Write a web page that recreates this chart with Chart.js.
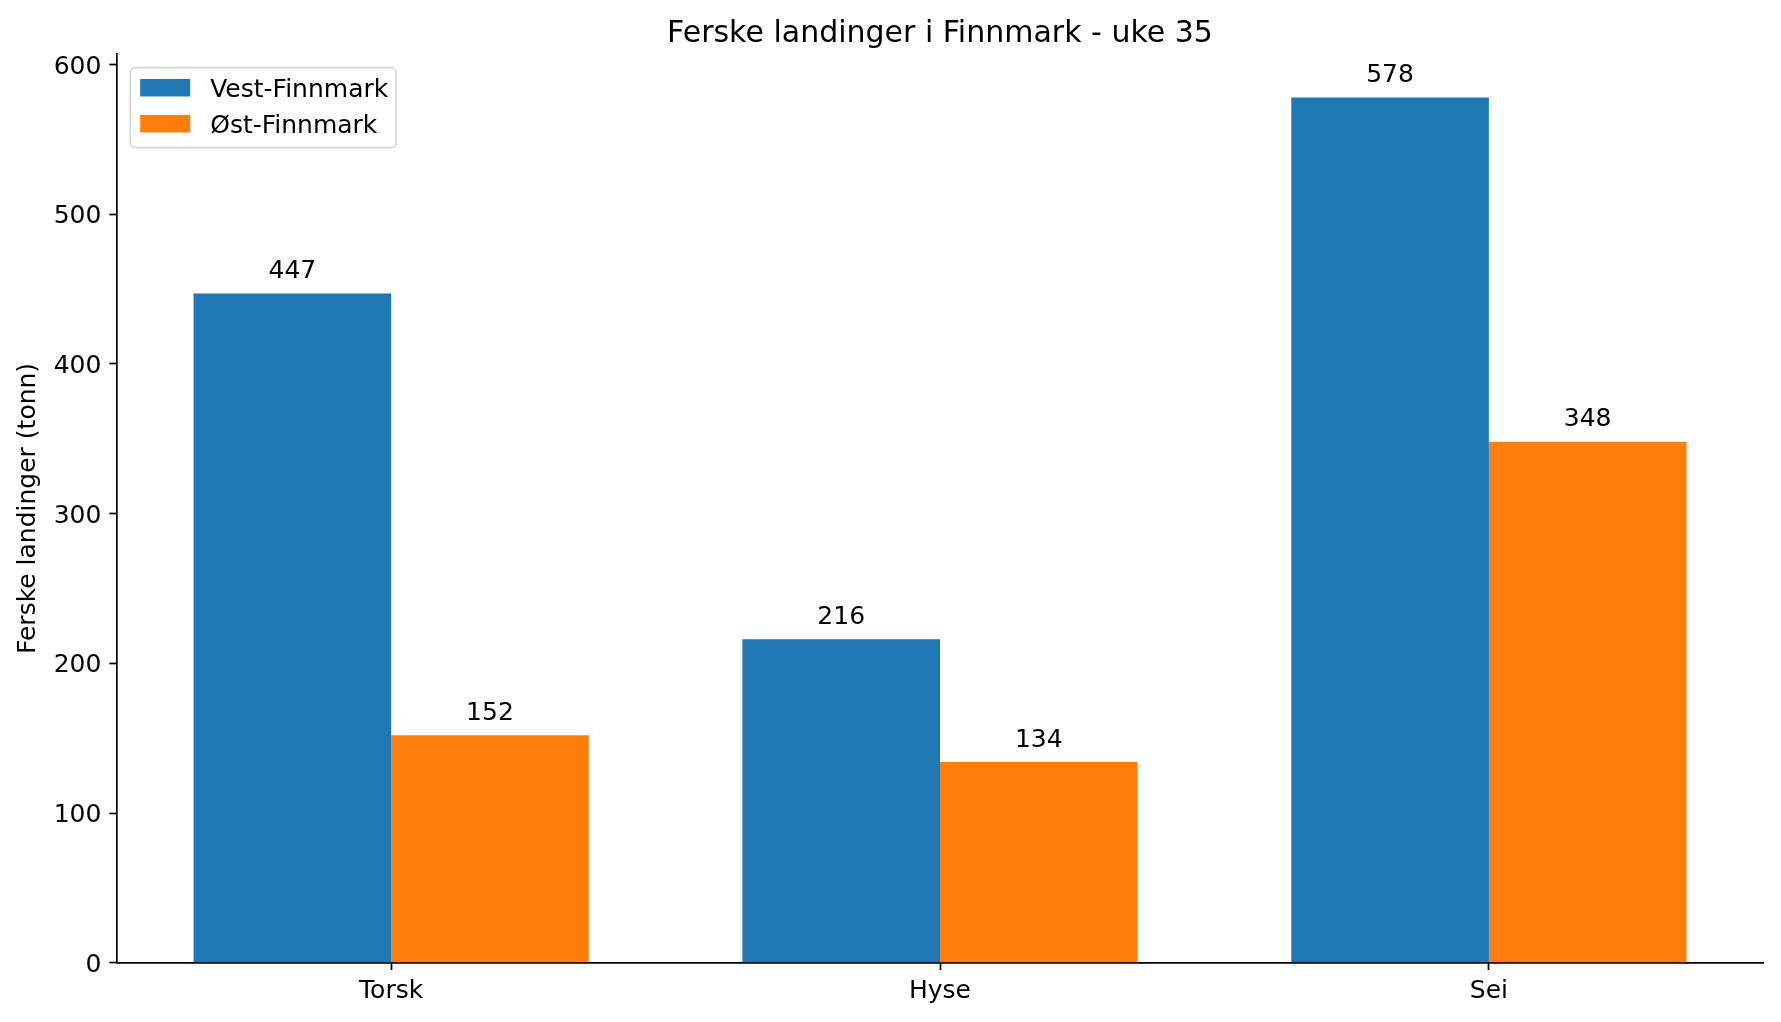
<!DOCTYPE html>
<html lang="no">
<head>
<meta charset="utf-8">
<title>Ferske landinger i Finnmark - uke 35</title>
<script src="https://cdn.jsdelivr.net/npm/chart.js@4.4.1/dist/chart.umd.min.js"></script>
<style>
    html, body { margin: 0; padding: 0; background: #fff; }
    #wrap { width: 1781px; height: 1022px; position: relative; }
</style>
</head>
<body>
<div id="wrap"><canvas id="grafico"></canvas></div>
<script>
// Data
const arter        = ["Torsk", "Hyse", "Sei"];
const vestFinnmark = [447, 216, 578];
const ostFinnmark  = [152, 134, 348];
const yTicks       = [0, 100, 200, 300, 400, 500, 600];
const yMax         = 606.9;
const tittel       = 'Ferske landinger i Finnmark - uke 35';

const FONT = "'DejaVu Sans', 'Liberation Sans', sans-serif";
Chart.defaults.color = '#000';
Chart.defaults.font.family = FONT;

// title centred over the plot area (like matplotlib), not the whole canvas
const tittelOverPlot = {
    id: 'tittelOverPlot',
    afterDraw(chart) {
        const { ctx, chartArea } = chart;
        ctx.save();
        ctx.font = `30px ${FONT}`;
        ctx.fillStyle = '#000';
        ctx.textAlign = 'center';
        ctx.textBaseline = 'alphabetic';
        ctx.fillText(tittel, (chartArea.left + chartArea.right) / 2, chartArea.top - 12.5);
        ctx.restore();
    }
};

// value labels above each bar
const verdiEtiketter = {
    id: 'verdiEtiketter',
    afterDatasetsDraw(chart) {
        const ctx = chart.ctx;
        ctx.save();
        ctx.font = `25px ${FONT}`;
        ctx.fillStyle = '#000';
        ctx.textAlign = 'center';
        ctx.textBaseline = 'alphabetic';
        chart.data.datasets.forEach((ds, i) => {
            chart.getDatasetMeta(i).data.forEach((bar, j) => {
                ctx.fillText(String(ds.data[j]), bar.x, bar.y - 15.5);
            });
        });
        ctx.restore();
    }
};

// matplotlib-like legend inside the plot, upper left
const legendeInne = {
    id: 'legendeInne',
    afterDraw(chart) {
        const { ctx, chartArea } = chart;
        ctx.save();
        ctx.font = `25px ${FONT}`;
        const labels = chart.data.datasets.map(d => d.label);
        const tekstBredde = Math.max(...labels.map(l => ctx.measureText(l).width));
        const x0 = chartArea.left + 13.5;
        const y0 = chartArea.top + 13.5;
        const w = 10 + 50 + 20 + tekstBredde + 8;
        const h = 80;

        ctx.beginPath();
        ctx.roundRect(x0, y0, w, h, 5);
        ctx.fillStyle = 'rgba(255,255,255,0.8)';
        ctx.fill();
        ctx.lineWidth = 1.7;
        ctx.strokeStyle = '#d6d6d6';
        ctx.stroke();

        chart.data.datasets.forEach((ds, i) => {
            const cy = y0 + 20 + i * 36;
            ctx.fillStyle = ds.backgroundColor;
            ctx.fillRect(x0 + 10, cy - 8.75, 50, 17.5);
            ctx.fillStyle = '#000';
            ctx.textAlign = 'left';
            ctx.textBaseline = 'alphabetic';
            ctx.fillText(ds.label, x0 + 80, cy + 9.3);
        });
        ctx.restore();
    }
};

new Chart(document.getElementById("grafico"), {
    type: 'bar',
    data: {
        labels: arter,
        datasets: [
            {
                label: 'Vest-Finnmark',
                data: vestFinnmark,
                backgroundColor: '#1f77b4',
                categoryPercentage: 0.72,
                barPercentage: 1.0,
                borderWidth: 0,
            },
            {
                label: 'Øst-Finnmark',
                data: ostFinnmark,
                backgroundColor: '#ff7f0e',
                categoryPercentage: 0.72,
                barPercentage: 1.0,
                borderWidth: 0,
            }
        ]
    },
    options: {
        responsive: true,
        maintainAspectRatio: false,
        devicePixelRatio: 1,
        animation: false,
        layout: { padding: { top: 54.2, right: 17.7, bottom: 0, left: 0 } },
        plugins: {
            legend: { display: false },
            tooltip: { enabled: false },
            title: { display: false }
        },
        scales: {
            x: {
                offset: true,
                grid: {
                    offset: false,
                    drawOnChartArea: false,
                    drawTicks: true,
                    tickLength: 7.3,
                    tickWidth: 1.7,
                    tickColor: '#000'
                },
                border: { display: true, color: '#000', width: 1.7 },
                ticks: {
                    color: '#000',
                    padding: 6.3,
                    font: { size: 25, family: FONT },
                    maxRotation: 0
                },
                afterFit(scale) { scale.height = 59.3; }
            },
            y: {
                min: 0,
                max: yMax,
                grid: {
                    drawOnChartArea: false,
                    drawTicks: true,
                    tickLength: 7.3,
                    tickWidth: 1.7,
                    tickColor: '#000'
                },
                border: { display: true, color: '#000', width: 1.7 },
                afterBuildTicks(scale) {
                    scale.ticks = yTicks.map(v => ({ value: v }));
                },
                ticks: {
                    color: '#000',
                    padding: 8,
                    labelOffset: 2.5,
                    font: { size: 25, family: FONT }
                },
                title: {
                    display: true,
                    text: 'Ferske landinger (tonn)',
                    color: '#000',
                    font: { size: 25, family: FONT, lineHeight: 1.2 },
                    padding: { top: 13.5, bottom: 0 }
                },
                afterFit(scale) { scale.width = 116.7; }
            }
        }
    },
    plugins: [verdiEtiketter, legendeInne, tittelOverPlot]
});
</script>
</body>
</html>
